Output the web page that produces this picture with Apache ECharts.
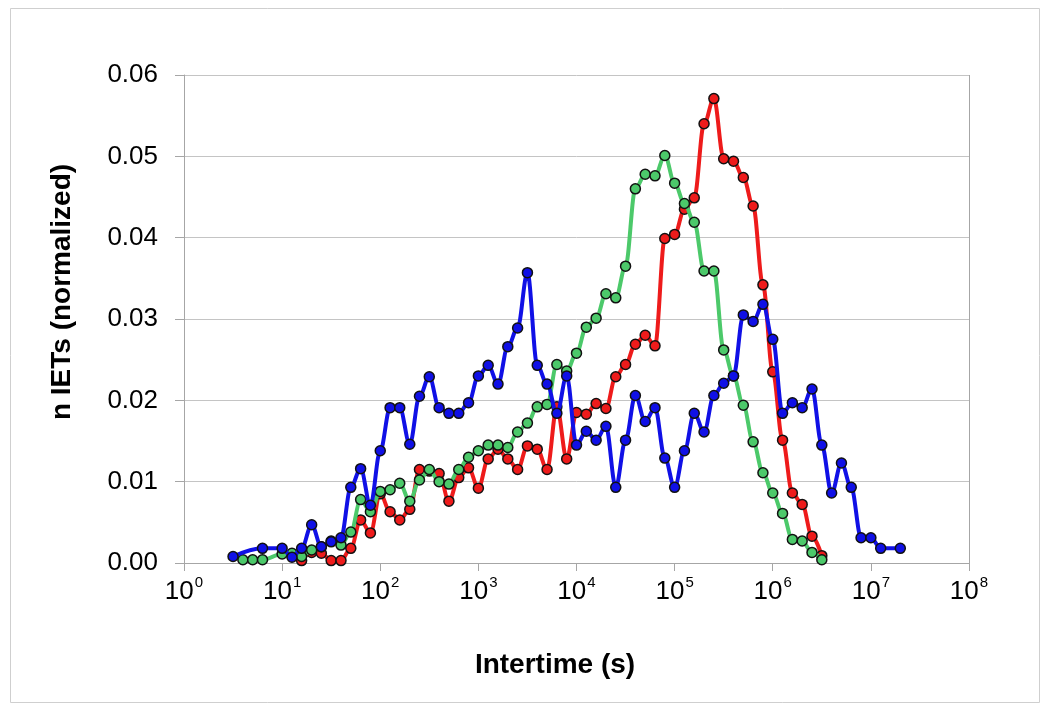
<!DOCTYPE html>
<html>
<head>
<meta charset="utf-8">
<script src="https://cdn.jsdelivr.net/npm/echarts@6/dist/echarts.min.js"></script>
<style>
html,body{margin:0;padding:0;background:#fff;}
#chart{width:1049px;height:705px;}
</style>
</head>
<body>
<div id="chart"></div>
<script>
// Bin times (s), log-spaced bins
var binTimes = [3.16, 3.98, 5.01, 6.31, 7.94,
  10, 12.6, 15.8, 20.0, 25.1, 31.6, 39.8, 50.1, 63.1, 79.4,
  100, 126, 158, 200, 251, 316, 398, 501, 631, 794,
  1000, 1259, 1585, 1995, 2512, 3162, 3981, 5012, 6310, 7943,
  1e4, 12590, 15850, 19950, 25120, 31620, 39810, 50120, 63100, 79430,
  1e5, 125900, 158500, 199500, 251200, 316200, 398100, 501200, 631000, 794300,
  1e6, 1259000, 1585000, 1995000, 2512000, 3162000, 3981000, 5012000, 6310000, 7943000,
  1e7, 12590000, 15850000, 19950000];

var blueValues = [0.0008, null, null, 0.0018, null,
  0.0018, 0.0007, 0.0018, 0.0047, 0.0020, 0.0026, 0.0031, 0.0093, 0.0116, 0.0071,
  0.0138, 0.0191, 0.0191, 0.0146, 0.0205, 0.0229, 0.0191, 0.0184, 0.0184, 0.0197,
  0.0230, 0.0243, 0.0220, 0.0266, 0.0289, 0.0357, 0.0243, 0.0220, 0.0184, 0.0230,
  0.0145, 0.0162, 0.0151, 0.0168, 0.0093, 0.0151, 0.0206, 0.0174, 0.0191, 0.0129,
  0.0093, 0.0138, 0.0184, 0.0161, 0.0206, 0.0221, 0.0230, 0.0305, 0.0297, 0.0318,
  0.0275, 0.0184, 0.0197, 0.0191, 0.0214, 0.0145, 0.0086, 0.0123, 0.0093, 0.0031,
  0.0031, 0.0018, null, 0.0018];

var redValues = [null, null, null, null, null,
  null, null, 0.0003, 0.0013, 0.0012, 0.0003, 0.0003, 0.0018, 0.0053, 0.0037,
  0.0085, 0.0063, 0.0053, 0.0066, 0.0115, 0.0113, 0.0110, 0.0076, 0.0105, 0.0117,
  0.0092, 0.0128, 0.0140, 0.0128, 0.0115, 0.0144, 0.0140, 0.0115, 0.0192, 0.0128,
  0.0185, 0.0183, 0.0196, 0.0190, 0.0229, 0.0244, 0.0269, 0.0280, 0.0267, 0.0399,
  0.0404, 0.0435, 0.0449, 0.0540, 0.0571, 0.0497, 0.0494, 0.0474, 0.0439, 0.0342,
  0.0235, 0.0151, 0.0086, 0.0072, 0.0033, 0.0009, null, null, null, null,
  null, null, null, null];

var greenValues = [null, 0.0004, 0.0004, 0.0004, null,
  0.0011, 0.0012, 0.0008, 0.0016, 0.0020, 0.0027, 0.0022, 0.0038, 0.0078, 0.0063,
  0.0088, 0.0090, 0.0098, 0.0076, 0.0102, 0.0115, 0.0100, 0.0097, 0.0115, 0.0130,
  0.0138, 0.0145, 0.0145, 0.0142, 0.0161, 0.0172, 0.0192, 0.0195, 0.0244, 0.0236,
  0.0258, 0.0290, 0.0301, 0.0331, 0.0326, 0.0365, 0.0460, 0.0478, 0.0476, 0.0501,
  0.0467, 0.0442, 0.0419, 0.0359, 0.0359, 0.0262, 0.0230, 0.0194, 0.0149, 0.0111,
  0.0086, 0.0061, 0.0029, 0.0027, 0.0013, 0.0004, null, null, null, null,
  null, null, null, null];

var xTitle = 'Intertime (s)';
var yTitle = 'n IETs (normalized)';

function pairs(vals) {
  var out = [];
  for (var i = 0; i < binTimes.length; i++) {
    if (vals[i] !== null) out.push([binTimes[i], vals[i]]);
  }
  return out;
}

function mkSeries(name, vals, color, z) {
  return {
    name: name, type: 'line', data: pairs(vals), z: z,
    smooth: 0.35, smoothMonotone: 'x',
    symbol: 'circle', symbolSize: 10, showSymbol: true,
    lineStyle: {color: color, width: 4},
    itemStyle: {color: color, borderColor: '#111', borderWidth: 1.5},
    emphasis: {disabled: true},
    animation: false
  };
}

var chart = echarts.init(document.getElementById('chart'), null, {renderer: 'canvas'});
chart.setOption({
  backgroundColor: '#fff',
  animation: false,
  grid: {left: 184, right: 80, top: 75, bottom: 142, containLabel: false},
  graphic: [
    {type: 'rect', shape: {x: 10.5, y: 8.5, width: 1029, height: 694}, style: {fill: 'none', stroke: '#cfcfcf', lineWidth: 1}, z: -10},
    {type: 'line', shape: {x1: 969.5, y1: 75, x2: 969.5, y2: 563}, style: {stroke: '#a6a6a6', lineWidth: 1}, z: 1},
    {type: 'text', x: 555, y: 665, style: {text: xTitle, font: 'bold 28px "Liberation Sans", Arial, sans-serif', fill: '#000', textAlign: 'center', textVerticalAlign: 'middle'}},
    {type: 'text', x: 62, y: 292, rotation: Math.PI / 2, style: {text: yTitle, font: 'bold 28px "Liberation Sans", Arial, sans-serif', fill: '#000', textAlign: 'center', textVerticalAlign: 'middle'}}
  ],
  xAxis: {
    type: 'log', logBase: 10, min: 1, max: 1e8, splitNumber: 8,
    axisLine: {show: true, lineStyle: {color: '#a6a6a6', width: 1}},
    axisTick: {show: true, length: 8, lineStyle: {color: '#a6a6a6'}},
    splitLine: {show: false},
    minorTick: {show: false},
    axisLabel: {
      margin: 12,
      formatter: function (v) {
        var e = Math.round(Math.log(v) / Math.LN10);
        return '{a|10}{b|' + e + '}';
      },
      rich: {
        a: {fontSize: 26, fontFamily: '"Liberation Sans", Arial, sans-serif', color: '#000', lineHeight: 30, verticalAlign: 'bottom'},
        b: {fontSize: 15, fontFamily: '"Liberation Sans", Arial, sans-serif', color: '#000', lineHeight: 30, verticalAlign: 'top', padding: [0, 0, 0, 1]}
      }
    }
  },
  yAxis: {
    type: 'value', min: 0, max: 0.06, interval: 0.01,
    axisLine: {show: true, lineStyle: {color: '#a6a6a6', width: 1}},
    axisTick: {show: true, length: 9, lineStyle: {color: '#a6a6a6'}},
    splitLine: {show: true, lineStyle: {color: '#c4c4c4', width: 1}},
    axisLabel: {
      margin: 26, fontSize: 26, color: '#000',
      fontFamily: '"Liberation Sans", Arial, sans-serif',
      formatter: function (v) { return v.toFixed(2); }
    }
  },
  series: [
    mkSeries('red', redValues, '#ee1b1b', 2),
    mkSeries('green', greenValues, '#4cc96a', 3),
    mkSeries('blue', blueValues, '#1010e6', 4)
  ]
});
</script>
</body>
</html>
